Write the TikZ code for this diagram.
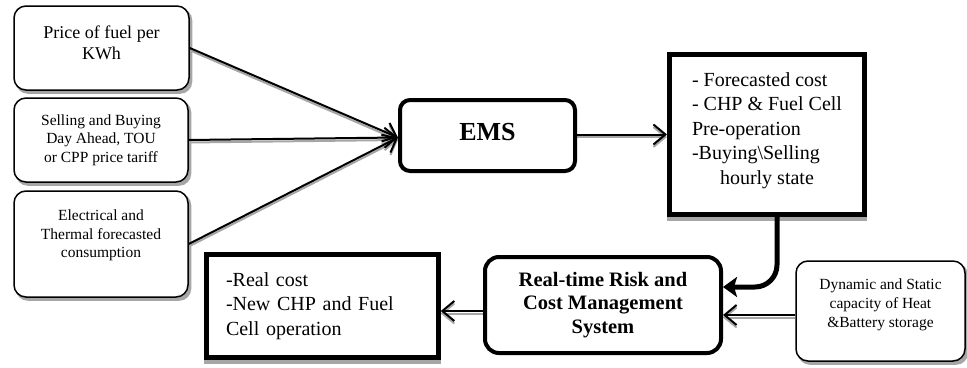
\documentclass[tikz,border=0pt]{standalone}
\usepackage{fontspec}
\setmainfont{Liberation Serif}
\usetikzlibrary{arrows.meta,backgrounds,calc}
\begin{document}
\begin{tikzpicture}[x=1pt,y=-1pt,
  inbox/.style={draw, line width=1.5pt, rounded corners=12pt, fill=white, align=center, inner sep=0pt},
  thickbox/.style={draw, line width=4.5pt, fill=white, inner sep=0pt},
  thickround/.style={draw, line width=4pt, rounded corners=14pt, fill=white, inner sep=0pt, align=center},
  shadowc/.style={fill=gray!70},
  arr/.style={line width=2pt, -{Straight Barb[length=12pt,width=20pt,line width=2pt]}},
  arrsh/.style={arr, draw=gray!70},
  curv/.style={line width=5pt, rounded corners=22pt, -{Stealth[length=14pt,width=20pt,inset=3pt]}},
  bigtxt/.style={font=\fontsize{18}{21}\selectfont},
  smalltxt/.style={font=\fontsize{15.5}{18.5}\selectfont},
  midtxt/.style={font=\fontsize{20}{24.5}\selectfont},
]
\useasboundingbox (0,0) rectangle (967,367);

\node[inbox, bigtxt, minimum width=175pt, minimum height=84pt] (in1) at (101.5,48)
  {Price of fuel per\\KWh\rule[-10pt]{0pt}{0pt}};
\node[inbox, smalltxt, minimum width=174pt, minimum height=84pt] (in2) at (101,140)
  {Selling and Buying\\Day Ahead, TOU\\or CPP price tariff};
\node[inbox, smalltxt, minimum width=174pt, minimum height=106pt] (in3) at (101,244)
  {Electrical and\\Thermal forecasted\\consumption\rule[-20pt]{0pt}{0pt}};

\node[thickround, rounded corners=10pt, minimum width=175pt, minimum height=71pt,
  font=\fontsize{26}{30}\selectfont\bfseries] (ems) at (487.5,135.5) {EMS\rule[-8pt]{0pt}{0pt}};

\node[thickbox, line width=5pt, minimum width=195pt, minimum height=160pt, midtxt, align=left] (fc) at (767,134.5)
  {- Forecasted cost\\- CHP \& Fuel Cell\\Pre-operation\\-Buying\textbackslash Selling\\\hspace*{28pt}hourly state\rule[-12pt]{0pt}{0pt}};

\node[thickbox, minimum width=232pt, minimum height=103pt, midtxt, align=left, text width=193pt] (lo) at (322.5,306)
  {-Real cost\\\makebox[193pt][s]{-New CHP and Fuel}\\Cell operation};

\node[thickround, minimum width=236pt, minimum height=96pt,
  font=\fontsize{20.5}{23.5}\selectfont\bfseries] (rt) at (603,305)
  {Real-time Risk and\\Cost Management\\System\rule[-4pt]{0pt}{0pt}};

\node[inbox, font=\fontsize{15.5}{19}\selectfont, minimum width=169pt, minimum height=100pt] (dyn) at (880.5,311)
  {Dynamic and Static\\capacity of Heat\\\&Battery storage\rule[-16pt]{0pt}{0pt}};

\begin{scope}[on background layer]
  \foreach \n in {in1,in2,in3,dyn}
    \fill[shadowc, rounded corners=12pt] ([shift={(2.5pt,-3pt)}]\n.north west) rectangle ([shift={(2.5pt,-3pt)}]\n.south east);
  \foreach \n in {fc,lo}
    \fill[shadowc] ([shift={(0pt,-4pt)}]\n.north west) rectangle ([shift={(0pt,-4pt)}]\n.south east);
  \draw[arrsh] ([shift={(0.5pt,-2.5pt)}]in1.east) -- ([shift={(0pt,-4.5pt)}]ems.west);
  \draw[arrsh] ([shift={(0pt,-2.5pt)}]in2.east) -- ([shift={(0pt,-4.5pt)}]ems.west);
  \draw[arrsh] ([shift={(0pt,-2.5pt)}]in3.east) -- ([shift={(0pt,-4.5pt)}]ems.west);
  \draw[arrsh] ([yshift=-1.5pt]ems.east) -- ([yshift=-1.5pt]ems.east -| fc.west);
  \draw[arrsh] ([yshift=-8.5pt]rt.west) -- ([yshift=-8.5pt]rt.west -| lo.east);
  \draw[arrsh] ([yshift=-6.5pt]dyn.west) -- ([yshift=-6.5pt]dyn.west -| rt.east);
\end{scope}

\draw[arr] (in1.east) -- ([yshift=-2pt]ems.west);
\draw[arr] (in2.east) -- ([yshift=-2pt]ems.west);
\draw[arr] (in3.east) -- ([yshift=-2pt]ems.west);
\draw[arr] ([yshift=1pt]ems.east) -- ([yshift=1pt]ems.east -| fc.west);
\draw[arr] ([yshift=-6pt]rt.west) -- ([yshift=-6pt]rt.west -| lo.east);
\draw[arr] ([yshift=-4pt]dyn.west) -- ([yshift=-4pt]dyn.west -| rt.east);
\draw[curv] ([xshift=10pt]fc.south) |- ([yshift=18pt]rt.east);
\end{tikzpicture}
\end{document}
